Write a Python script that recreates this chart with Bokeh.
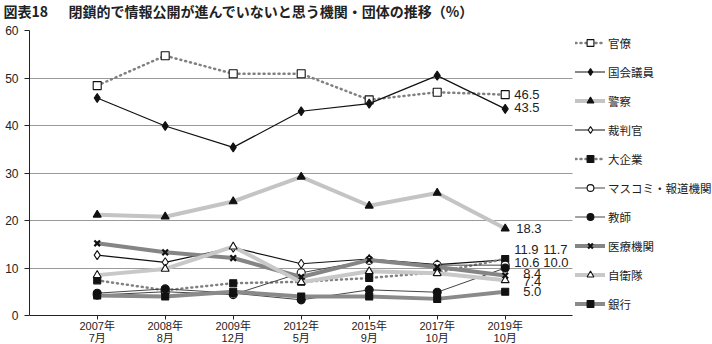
from bokeh.plotting import figure
from bokeh.models import (Range1d, FixedTicker, Label, Legend, LegendItem, ColumnDataSource)
from bokeh.embed import file_html
from bokeh.resources import INLINE

# ---- data ----
periods = ["2007年\n7月", "2008年\n8月", "2009年\n12月", "2012年\n5月", "2015年\n9月", "2017年\n10月", "2019年\n10月"]
kanryo = [48.4, 54.7, 50.9, 50.9, 45.4, 47.0, 46.5]
kokkai = [45.8, 39.9, 35.4, 43.0, 44.6, 50.5, 43.5]
keisatsu = [21.2, 20.8, 24.0, 29.2, 23.1, 25.8, 18.3]
saibankan = [12.7, 11.2, 14.3, 10.9, 11.9, 10.7, 11.7]
daikigyo = [7.4, 5.3, 6.8, 7.1, 7.9, 9.1, 11.9]
masukomi = [4.3, 5.0, 4.4, 9.0, 11.6, 10.6, 10.6]
kyoshi = [4.7, 5.6, 4.7, 3.3, 5.4, 4.9, 10.0]
iryo = [15.2, 13.3, 12.1, 8.1, 11.7, 10.2, 8.4]
jieitai = [8.5, 9.8, 14.5, 7.0, 9.3, 8.9, 7.4]
ginko = [4.2, 4.0, 5.0, 4.0, 4.0, 3.5, 5.0]
y_ticks = [0, 10, 20, 30, 40, 50, 60]

names = ["官僚", "国会議員", "警察", "裁判官", "大企業", "マスコミ・報道機関", "教師", "医療機関", "自衛隊", "銀行"]
values = [kanryo, kokkai, keisatsu, saibankan, daikigyo, masukomi, kyoshi, iryo, jieitai, ginko]

# ---- styles ----
styles = [
    dict(lc="#808080", lw=2.5, dash="1 4", m="square", ms=8, fill="white"),
    dict(lc="#111111", lw=1.2, dash="solid", m="diamond", ms=9, fill="#111111"),
    dict(lc="#c4c4c4", lw=4, dash="solid", m="triangle", ms=8, fill="#111111"),
    dict(lc="#111111", lw=1.2, dash="solid", m="diamond", ms=9, fill="white"),
    dict(lc="#808080", lw=2.5, dash="1 4", m="square", ms=7, fill="#111111"),
    dict(lc="#444444", lw=1, dash="solid", m="circle", ms=8, fill="white"),
    dict(lc="#444444", lw=1, dash="solid", m="circle", ms=8, fill="#111111"),
    dict(lc="#858585", lw=4, dash="solid", m="x", ms=8, fill="#111111"),
    dict(lc="#c8c8c8", lw=4, dash="solid", m="triangle", ms=8, fill="white"),
    dict(lc="#8a8a8a", lw=4, dash="solid", m="square", ms=7, fill="#111111"),
]
# end-label offsets (pixels) for the 2019 values
label_offsets = [(9, 0), (9, 1), (11, 0), (38, 10.5), (9, 9.5), (9, 2.5), (38, 5.5), (18, 2), (18, -1), (18, 0)]

xs = list(range(len(periods)))

# layout geometry (pixels): plot area left 29, right 572, top 30, bottom 315
W, H = 712, 344
X0PX, DXPX = 96.7, 68.0
Y0PX, DYPX = 315.0, 4.75
x_lo, x_hi = -X0PX / DXPX, (W - X0PX) / DXPX
y_lo, y_hi = -(H - Y0PX) / DYPX, Y0PX / DYPX
ax_left = (29 - X0PX) / DXPX
ax_right = (572 - X0PX) / DXPX

p = figure(width=W, height=H, output_backend="svg", toolbar_location=None,
           x_range=Range1d(x_lo, x_hi), y_range=Range1d(y_lo, y_hi),
           min_border_left=0, min_border_right=0, min_border_top=0, min_border_bottom=0)
p.outline_line_color = None
p.background_fill_color = "white"
p.border_fill_color = "white"

p.xgrid.visible = False
p.ygrid.ticker = FixedTicker(ticks=y_ticks[1:-1])
p.ygrid.grid_line_color = "#9a9a9a"
p.ygrid.grid_line_width = 1
p.ygrid.cross_bounds = (ax_left, ax_right)

p.yaxis.fixed_location = ax_left
p.yaxis.bounds = (y_ticks[0], y_ticks[-1])
p.yaxis.ticker = FixedTicker(ticks=y_ticks)
p.yaxis.major_label_text_font = "Liberation Sans"
p.yaxis.major_label_text_font_size = "12px"
p.yaxis.major_label_text_color = "#222222"
p.yaxis.major_tick_out = 5
p.yaxis.major_tick_in = 0
p.yaxis.minor_tick_out = 0
p.yaxis.minor_tick_in = 0
p.yaxis.major_label_standoff = 6
p.yaxis.axis_line_color = "#222222"
p.yaxis.major_tick_line_color = "#222222"

p.xaxis.fixed_location = 0
p.xaxis.bounds = (ax_left, ax_right)
p.xaxis.ticker = FixedTicker(ticks=xs)
p.xaxis.major_label_overrides = {i: lab for i, lab in zip(xs, periods)}
p.xaxis.major_label_text_font = "Liberation Sans, Noto Sans CJK JP"
p.xaxis.major_label_text_font_size = "11px"
p.xaxis.major_label_text_line_height = 1.0
p.xaxis.major_label_text_color = "#222222"
p.xaxis.major_tick_out = 4
p.xaxis.major_tick_in = 0
p.xaxis.minor_tick_out = 0
p.xaxis.minor_tick_in = 0
p.xaxis.major_label_standoff = 0
p.xaxis.axis_line_color = "#222222"
p.xaxis.major_tick_line_color = "#222222"

items = []
for name, vals, st in zip(names, values, styles):
    src = ColumnDataSource(dict(x=xs, y=vals))
    r_line = p.line("x", "y", source=src, line_color=st["lc"], line_width=st["lw"],
                    line_dash=st["dash"], line_cap="round")
    r_mark = p.scatter("x", "y", source=src, marker=st["m"], size=st["ms"],
                       fill_color=st["fill"], line_color="#111111",
                       line_width=(2.2 if st["m"] == "x" else 1.1))
    items.append(LegendItem(label=name, renderers=[r_line, r_mark]))

LEG_TOP, ITEM_H, ITEM_GAP = 34, 17, 12
leg_height = len(names) * ITEM_H + (len(names) - 1) * ITEM_GAP
legend = Legend(items=items, location=(575, H - LEG_TOP - leg_height), orientation="vertical",
                glyph_width=30, glyph_height=ITEM_H, label_height=ITEM_H, spacing=ITEM_GAP,
                padding=0, margin=0, label_standoff=3,
                label_text_font="Noto Sans CJK JP", label_text_font_size="11.5px",
                label_text_color="#222222",
                background_fill_alpha=0, border_line_alpha=0)
p.add_layout(legend)

for vals, (dx, dy) in zip(values, label_offsets):
    p.add_layout(Label(x=xs[-1], y=vals[-1], x_offset=dx, y_offset=dy, text=f"{vals[-1]:.1f}",
                       text_font="Liberation Sans", text_font_size="13px", text_color="#222222",
                       text_baseline="middle", text_align="left"))

# title
p.add_layout(Label(x=3, y=H - 10, x_units="screen", y_units="screen", text="図表18",
                   text_font="Noto Sans CJK JP", text_font_size="14px", text_font_style="bold",
                   text_color="#222222", text_baseline="middle"))
p.add_layout(Label(x=68, y=H - 10, x_units="screen", y_units="screen",
                   text="閉鎖的で情報公開が進んでいないと思う機関・団体の推移（%）",
                   text_font="Noto Sans CJK JP", text_font_size="14px", text_font_style="bold",
                   text_color="#222222", text_baseline="middle"))

open("out.html", "w").write(file_html(p, INLINE))
